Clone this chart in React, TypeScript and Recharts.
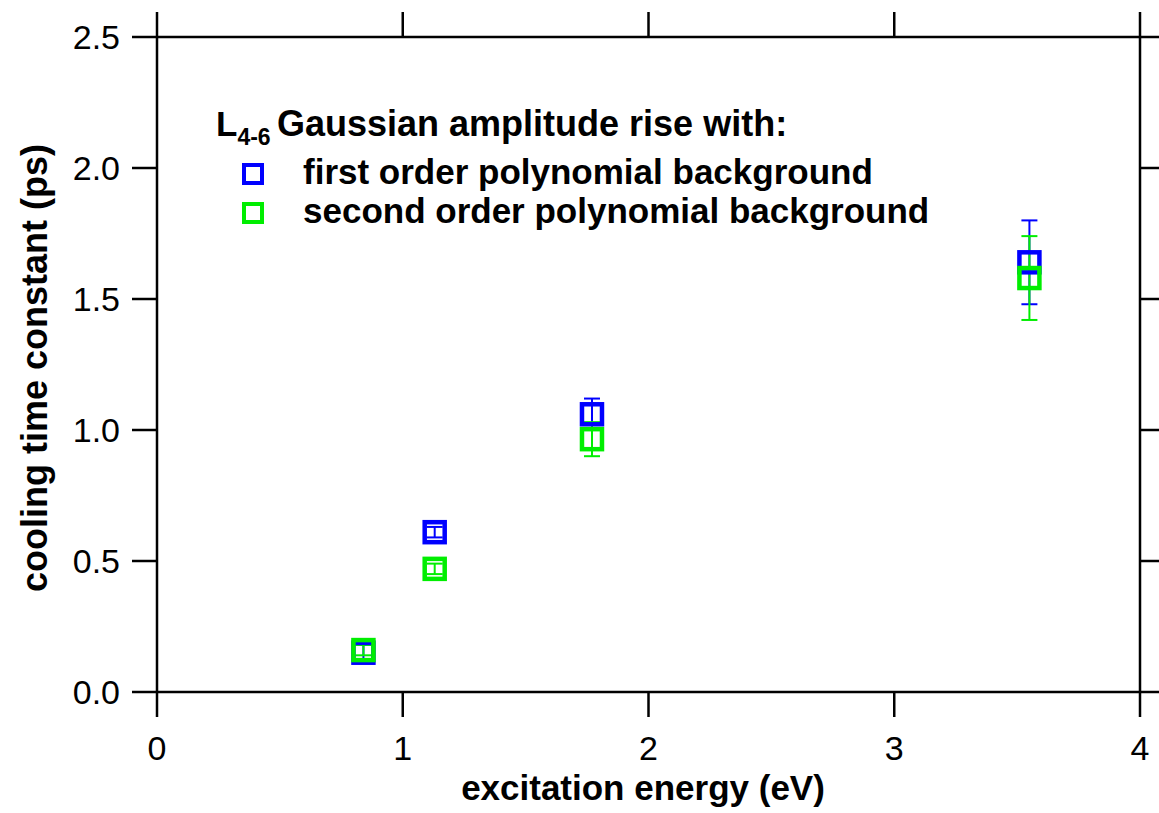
import React from 'react';
import { ScatterChart, Scatter, XAxis, YAxis, ErrorBar } from 'recharts';

const energies = [0.84, 1.13, 1.77, 3.55];
const firstOrder = [0.15, 0.61, 1.06, 1.64];
const firstErr = [0.03, 0.02, 0.06, 0.16];
const secondOrder = [0.16, 0.47, 0.965, 1.58];
const secondErr = [0.02, 0.02, 0.065, 0.16];
const xTicks = [0, 1, 2, 3, 4];
const yTicks = [0, 0.5, 1, 1.5, 2, 2.5];

const BLUE = '#0000ff';
const GREEN = '#00ee00';
const FONT = '"Liberation Sans", Arial, Helvetica, sans-serif';

const firstData = energies.map((x, i) => ({ x, y: firstOrder[i], err: firstErr[i] }));
const secondData = energies.map((x, i) => ({ x, y: secondOrder[i], err: secondErr[i] }));

const makeShape = (color: string) => (props: any) => {
  const { cx, cy } = props;
  return <rect x={cx - 10} y={cy - 10} width={20} height={20} fill="none" stroke={color} strokeWidth={4.5} />;
};

const axisLine = { stroke: '#000', strokeWidth: 2.5 };
const tickLine = { stroke: '#000', strokeWidth: 2.5 };
const tickStyle = { fill: '#000', fontSize: 34, fontFamily: FONT };
const emptyLabel = () => '';

export default function App() {
  return (
    <div style={{ position: 'absolute', left: 0, top: 0, width: 1159, height: 813, background: '#fff' }}>
      <ScatterChart width={1159} height={813} margin={{ top: 12, right: 0, bottom: 61, left: 77 }}>
        <XAxis
          dataKey="x"
          type="number"
          domain={[0, 4]}
          ticks={xTicks}
          allowDataOverflow
          interval={0}
          height={60}
          axisLine={axisLine}
          tickLine={tickLine}
          tickSize={25}
          tickMargin={19}
          tick={tickStyle}
        />
        <XAxis
          xAxisId="top"
          orientation="top"
          dataKey="x"
          type="number"
          domain={[0, 4]}
          ticks={xTicks}
          allowDataOverflow
          interval={0}
          height={25}
          axisLine={axisLine}
          tickLine={tickLine}
          tickSize={25}
          tick={tickStyle}
          tickFormatter={emptyLabel}
        />
        <YAxis
          dataKey="y"
          type="number"
          domain={[0, 2.5]}
          ticks={yTicks}
          allowDataOverflow
          interval={0}
          width={80}
          axisLine={axisLine}
          tickLine={tickLine}
          tickSize={25}
          tickMargin={12}
          tick={tickStyle}
          tickFormatter={(v: number) => v.toFixed(1)}
        />
        <YAxis
          yAxisId="right"
          orientation="right"
          type="number"
          domain={[0, 2.5]}
          ticks={yTicks}
          allowDataOverflow
          interval={0}
          width={19}
          axisLine={axisLine}
          tickLine={tickLine}
          tickSize={25}
          tick={tickStyle}
          tickFormatter={emptyLabel}
        />
        <Scatter data={firstData} isAnimationActive={false} shape={makeShape(BLUE)}>
          <ErrorBar dataKey="err" direction="y" width={8} stroke={BLUE} strokeWidth={2} />
        </Scatter>
        <Scatter data={secondData} isAnimationActive={false} shape={makeShape(GREEN)}>
          <ErrorBar dataKey="err" direction="y" width={8} stroke={GREEN} strokeWidth={2} />
        </Scatter>
        <g fontFamily={FONT} fill="#000">
          <text x={643} y={800} textAnchor="middle" fontSize={35} fontWeight="bold">excitation energy (eV)</text>
          <text x={47} y={368} transform="rotate(-90 47 368)" textAnchor="middle" fontSize={36} fontWeight="bold">cooling time constant (ps)</text>
          <text x={216} y={136} fontSize={35} fontWeight="bold">
            L
            <tspan fontSize={23} dy={9}>4-6</tspan>
            <tspan x={277} dy={-9} fontSize={36}>Gaussian amplitude rise with:</tspan>
          </text>
          <rect x={244} y={165} width={18} height={18} fill="none" stroke={BLUE} strokeWidth={4} />
          <rect x={244} y={204} width={18} height={18} fill="none" stroke={GREEN} strokeWidth={4} />
          <text x={303} y={184} fontSize={35} fontWeight="bold">first order polynomial background</text>
          <text x={303} y={223} fontSize={35} fontWeight="bold">second order polynomial background</text>
        </g>
      </ScatterChart>
    </div>
  );
}
